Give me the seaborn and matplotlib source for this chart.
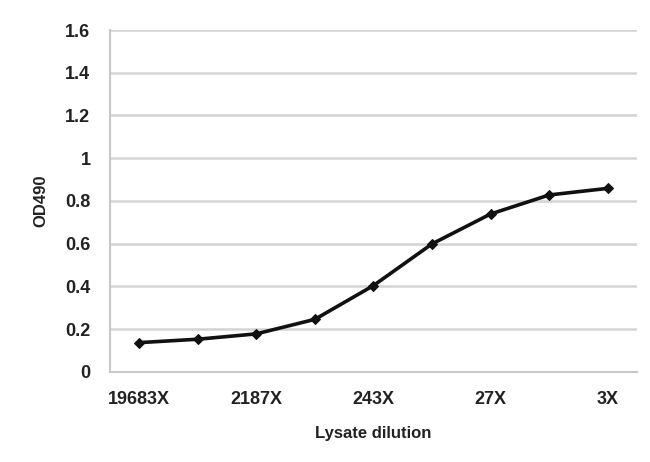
import numpy as np
import pandas as pd
import seaborn as sns
import matplotlib.pyplot as plt
from matplotlib.ticker import FixedLocator

# dilution series (9 points, every other one labelled)
dilutions = ['19683X', '6561X', '2187X', '729X', '243X', '81X', '27X', '9X', '3X']
od490 = [0.137, 0.153, 0.178, 0.246, 0.404, 0.599, 0.739, 0.828, 0.859]
shown_labels = ['19683X', '', '2187X', '', '243X', '', '27X', '', '3X']

df = pd.DataFrame({'dilution': dilutions, 'od': od490})
df['pos'] = np.arange(len(df))

sns.set_style('white')
plt.rcParams['font.family'] = ['Liberation Sans', 'DejaVu Sans']
plt.rcParams['font.weight'] = 'bold'

fig = plt.figure(figsize=(6.5, 4.62), dpi=100)
ax = fig.add_axes([0.169, 0.195, 0.811, 0.74])

sns.lineplot(data=df, x='pos', y='od', ax=ax, color='#111111', linewidth=2.6,
             marker='D', markersize=5.5, markeredgecolor='#111111')

ax.set_xlim(-0.5, len(df) - 0.5)
ax.set_ylim(0, 1.6)
ax.set_yticks(np.arange(0, 1.61, 0.2))
ax.set_yticklabels(['0', '0.2', '0.4', '0.6', '0.8', '1', '1.2', '1.4', '1.6'])
ax.yaxis.grid(True, color='#d4d4d4', linewidth=1.8)
ax.set_axisbelow(True)

ax.set_xticks(df['pos'])
ax.set_xticklabels(shown_labels)
ax.tick_params(axis='x', which='major', length=0, pad=14, labelsize=13, colors='#222222')
ax.xaxis.set_minor_locator(FixedLocator(np.arange(-0.5, len(df), 1)))
ax.tick_params(axis='x', which='minor', length=4, color='#c8c8c8', width=1.5)
ax.tick_params(axis='y', length=6, width=1.8, labelsize=13, pad=8)
ax.tick_params(axis='y', colors='#222222', color='#d4d4d4')

for s in ['top', 'right']:
    ax.spines[s].set_visible(False)
for s in ['left', 'bottom']:
    ax.spines[s].set_color('#c8c8c8')
    ax.spines[s].set_linewidth(1.5)

ax.set_xlabel('Lysate dilution', fontsize=12, fontweight='bold', labelpad=13, color='#222222')
ax.set_ylabel('OD490', fontsize=12, fontweight='bold', labelpad=12, color='#222222')

fig.savefig('out.png', dpi=100, facecolor='white')
